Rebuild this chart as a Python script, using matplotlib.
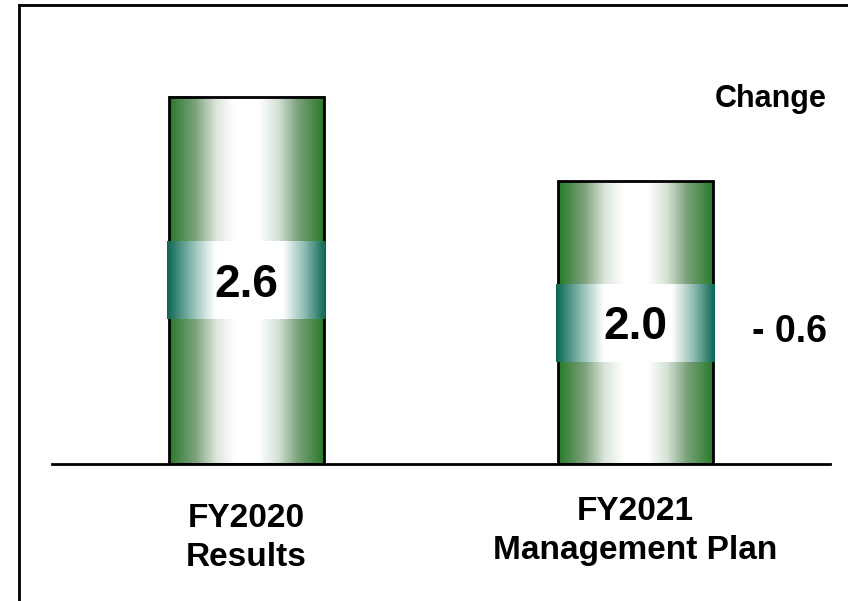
import numpy as np
import matplotlib.pyplot as plt
from matplotlib.colors import LinearSegmentedColormap
from matplotlib.lines import Line2D
from matplotlib.transforms import blended_transform_factory

plt.rcParams['font.family'] = ['Liberation Sans', 'DejaVu Sans']
plt.rcParams['font.weight'] = 'bold'

# data
categories = ["FY2020\nResults", "FY2021\nManagement Plan"]
values = [2.6, 2.0]
value_labels = ["2.6", "2.0"]
change_label = "- 0.6"

GREEN = "#267a28"
TEAL = "#0a6652"
bar_cmap = LinearSegmentedColormap.from_list(
    "bar", [(0, GREEN), (0.17, "#7fa27f"), (0.30, "#dbe6db"), (0.42, "white"),
            (0.58, "white"), (0.70, "#d5e2d5"), (0.83, "#7aa07a"), (1, GREEN)])
band_cmap = LinearSegmentedColormap.from_list(
    "band", [(0, TEAL), (0.15, "#86b8ad"), (0.30, "white"), (0.73, "white"),
             (0.87, "#8cbab0"), (1, TEAL)])
ramp = np.linspace(0, 1, 256).reshape(1, -1)

W, H = 848, 601
fig = plt.figure(figsize=(W / 100, H / 100), dpi=100)
ax = fig.add_axes([52 / W, 1 - 464 / H, 778 / W, 459 / H])
ax.set_axis_off()

x = np.arange(len(values))
bars = ax.bar(x, values, width=0.4, fill=False, edgecolor="black",
              linewidth=2, zorder=3)

band_h = 0.55
for b, lab in zip(bars, value_labels):
    x0, w, h = b.get_x(), b.get_width(), b.get_height()
    ax.imshow(ramp, cmap=bar_cmap, extent=[x0, x0 + w, 0, h],
              aspect="auto", zorder=1, interpolation="bilinear")
    # label band around mid-height
    ax.imshow(ramp, cmap=band_cmap,
              extent=[x0 - 0.004, x0 + w + 0.004, h / 2 - band_h / 2, h / 2 + band_h / 2],
              aspect="auto", zorder=4, interpolation="bilinear")
    ax.annotate(lab, (x0 + w / 2, h / 2), xytext=(0, -11.8),
                textcoords="offset points", ha="center", va="baseline",
                fontsize=33, fontweight="bold", zorder=5)

ax.axhline(0, color="black", linewidth=2, zorder=6, clip_on=False)

ax.set_xlim(-0.5, 1.5)
ax.set_ylim(0, 459 / 141.3)

# change column
ax.text(1.347, 2.53, "Change", ha="center", va="baseline",
        fontsize=22, fontweight="bold")
ax.text(1.396, 0.863, change_label, ha="center", va="baseline",
        fontsize=27, fontweight="bold")

# category labels below the baseline
tr = blended_transform_factory(ax.transData, fig.transFigure)
cat_y = [1 - 538 / H, 1 - 531 / H]
for xi, cat, cy in zip(x, categories, cat_y):
    ax.text(xi, cy, cat, transform=tr, ha="center", va="center",
            fontsize=24, fontweight="bold", linespacing=1.37)

# outer frame (top and left edges visible)
fx, fy = 19 / W, 1 - 5 / H
fig.add_artist(Line2D([fx, 1.05], [fy, fy], color="black", linewidth=2,
                      transform=fig.transFigure))
fig.add_artist(Line2D([fx, fx], [-0.05, fy], color="black", linewidth=2,
                      transform=fig.transFigure))

fig.savefig("out.png", dpi=100)
